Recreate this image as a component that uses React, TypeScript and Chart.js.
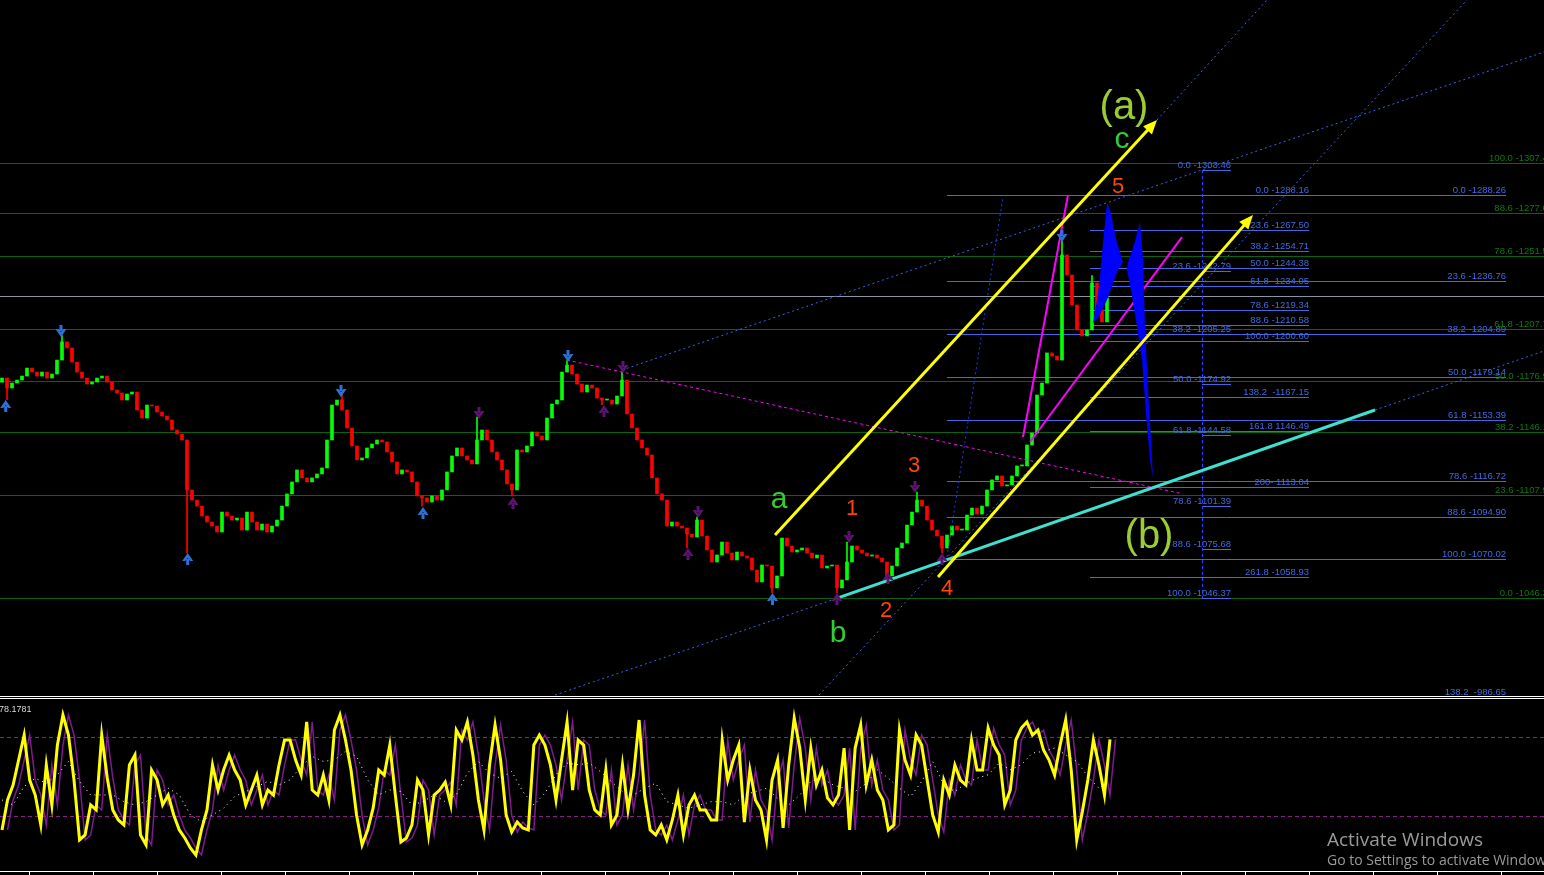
import React, { useEffect, useRef } from "react";
import { Chart, registerables } from "chart.js";

Chart.register(...registerables);

/* ===================== PRICE DATA (x = bar index, y = price) ===================== */
const closes: number[] = [
  1178.5, 1172.5, 1175.5, 1177.3, 1179.7, 1184.5, 1182.1, 1179.7, 1182.1, 1178.5,
  1180.9, 1189.3, 1200.2, 1196.6, 1188.1, 1182.1, 1178.5, 1174.9, 1176.1, 1178.5,
  1179.7, 1176.1, 1171.3, 1169.5, 1165.3, 1168.9, 1170.1, 1159.3, 1154.5, 1162.3,
  1161.7, 1158.1, 1155.7, 1153.3, 1147.3, 1144.9, 1141.3, 1111.3, 1105.2, 1101.6,
  1095.6, 1092.0, 1089.6, 1086.0, 1098.0, 1095.6, 1093.2, 1094.4, 1087.2, 1098.0,
  1092.0, 1087.2, 1090.8, 1086.0, 1089.6, 1093.2, 1101.6, 1108.9, 1116.1, 1123.3,
  1118.5, 1116.1, 1118.5, 1120.9, 1124.5, 1141.3, 1162.3, 1165.3, 1159.3, 1148.5,
  1137.7, 1129.3, 1130.5, 1136.5, 1138.9, 1141.3, 1140.1, 1134.1, 1128.1, 1120.9,
  1123.3, 1122.1, 1116.1, 1107.7, 1106.5, 1104.0, 1107.7, 1105.2, 1111.3, 1122.1,
  1131.7, 1136.5, 1131.7, 1129.3, 1126.9, 1141.3, 1147.3, 1141.3, 1134.1, 1129.3,
  1123.3, 1114.9, 1111.3, 1135.3, 1134.1, 1137.7, 1146.1, 1143.7, 1141.3, 1154.5,
  1162.9, 1165.3, 1182.1, 1186.3, 1180.9, 1174.9, 1170.1, 1174.3, 1172.5, 1166.5,
  1165.3, 1165.3, 1162.9, 1167.7, 1177.3, 1156.9, 1148.5, 1141.3, 1136.5, 1132.3,
  1118.5, 1108.9, 1105.2, 1089.6, 1092.0, 1089.6, 1088.4, 1084.8, 1083.0, 1093.2,
  1083.6, 1075.2, 1068.0, 1072.2, 1080.0, 1073.4, 1069.2, 1074.0, 1071.6, 1070.4,
  1063.2, 1056.0, 1066.2, 1065.6, 1052.4, 1059.6, 1082.4, 1077.6, 1074.0, 1075.2,
  1076.4, 1073.4, 1070.4, 1072.2, 1064.4, 1065.6, 1066.2, 1052.4, 1057.2, 1068.0,
  1077.6, 1075.2, 1073.4, 1071.6, 1072.2, 1070.4, 1068.0, 1059.6, 1065.6, 1076.4,
  1079.4, 1090.2, 1098.0, 1105.2, 1101.6, 1093.2, 1087.2, 1083.6, 1076.4, 1084.2,
  1089.6, 1087.2, 1087.2, 1096.2, 1100.4, 1096.8, 1101.6, 1111.3, 1117.3, 1119.7,
  1113.7, 1114.3, 1119.7, 1125.7, 1125.7, 1138.3, 1145.5, 1168.3, 1175.5, 1193.6,
  1191.7, 1189.3, 1252.4, 1240.4, 1222.4, 1207.4, 1203.8, 1207.4, 1235.6, 1219.4,
  1212.2, 1226.6,
];
const firstOpen = 1176.0;
// [bar index, wick extreme price]
const wickExtremes: number[][] = [
  [1, 1165.5], [12, 1204.0], [37, 1073.5], [68, 1169.0], [84, 1101.5], [95, 1155.0],
  [102, 1107.5], [113, 1189.0], [120, 1162.5], [124, 1182.0], [137, 1076.5], [139, 1095.0],
  [154, 1049.5], [167, 1049.5], [169, 1080.0], [177, 1057.5], [183, 1110.0], [188, 1073.5],
  [212, 1261.0], [218, 1240.0],
];
const bidPrice = 1227.8;

/* Fibonacci levels: [label, price] */
const greenFibLevels: [string, number][] = [
  ["100.0 -1307.44", 1307.44], ["88.6 -1277.68", 1277.68], ["78.6 -1251.57", 1251.57],
  ["61.8 -1207.71", 1207.71], ["50.0 -1176.91", 1176.91], ["38.2 -1146.10", 1146.1],
  ["23.6 -1107.98", 1107.98], ["0.0 -1046.37", 1046.37],
];
const greenLabelAnchor = 310.2;

const fibWideLevels: [string, number][] = [
  ["0.0 -1288.26", 1288.26], ["23.6 -1236.76", 1236.76], ["38.2 -1204.89", 1204.89],
  ["50.0 -1179.14", 1179.14], ["61.8 -1153.39", 1153.39], ["78.6 -1116.72", 1116.72],
  ["88.6 -1094.90", 1094.9], ["100.0 -1070.02", 1070.02], ["138.2  -986.65", 986.65],
];
const fibWideSpan = [189.0, 300.8];

const fibMidLevels: [string, number][] = [
  ["0.0 -1288.16", 1288.16], ["23.6 -1267.50", 1267.5], ["38.2 -1254.71", 1254.71],
  ["50.0 -1244.38", 1244.38], ["61.8 -1234.05", 1234.05], ["78.6 -1219.34", 1219.34],
  ["88.6 -1210.58", 1210.58], ["100.0 -1200.60", 1200.6], ["138.2  -1167.15", 1167.15],
  ["161.8 1146.49", 1146.49], ["200- 1113.04", 1113.04], ["261.8 -1058.93", 1058.93],
];
const fibMidSpan = [217.6, 261.4];

const fibShortLevels: [string, number][] = [
  ["0.0 -1303.46", 1303.46], ["23.6 -1242.79", 1242.79], ["38.2 -1205.25", 1205.25],
  ["50.0 -1174.92", 1174.92], ["61.8 -1144.58", 1144.58], ["78.6 -1101.39", 1101.39],
  ["88.6 -1075.68", 1075.68], ["100.0 -1046.37", 1046.37],
];
const fibShortSpan = [240.0, 245.8];

/* Trend lines: [[bar index, price], [bar index, price]] */
const yellowUpper = [[154.6, 1084.2], [231.0, 1333.5]];
const yellowLower = [[187.2, 1059.0], [250.2, 1276.4]];
const cyanLine = [[167.2, 1046.4], [274.6, 1159.3]];
const dottedLines = [
  [[110.6, 988.1], [167.2, 1046.4]],
  [[274.6, 1159.3], [308.4, 1194.8]],
  [[124.0, 1183.3], [308.4, 1374.4]],
  [[163.4, 988.1], [293.0, 1405.6]],
  [[231.0, 1333.5], [253.0, 1405.6]],
];
const steepDotted = [[189.0, 1071.0], [200.2, 1287.3]];
const magentaDashed = [[113.0, 1189.3], [236.2, 1108.9]];
const magentaSolid = [
  [[204.2, 1143.1], [213.2, 1288.5]],
  [[205.6, 1140.1], [236.0, 1263.2]],
];
const projectionA = [
  [218.2, 1211.6], [219.0, 1225.4], [219.6, 1239.2], [220.2, 1259.6], [221.0, 1283.7], [221.6, 1279.5],
  [223.0, 1259.6], [224.2, 1248.2], [223.0, 1242.2], [221.0, 1225.4], [219.2, 1214.6],
];
const projectionB = [
  [225.2, 1248.2], [226.4, 1258.4], [227.6, 1272.2], [228.2, 1249.4], [228.6, 1209.2], [229.2, 1171.3],
  [229.8, 1141.3], [230.2, 1118.5], [229.6, 1129.3], [228.8, 1157.5], [228.0, 1189.3], [226.8, 1213.4],
  [225.8, 1231.4], [225.0, 1243.4],
];

/* Fractal arrows: [bar index, tip price] */
const blueUp = [[0.74, 1165.3], [37.14, 1073.4], [84.2, 1101.0], [154.1, 1049.4]];
const blueDown = [[11.8, 1203.2], [67.8, 1167.1], [113.2, 1188.1], [212.0, 1260.2]];
const purpleDown = [[95.4, 1153.9], [124.2, 1181.5], [139.2, 1094.4], [169.4, 1079.4], [182.6, 1109.5]];
const purpleUp = [[102.2, 1107.0], [120.4, 1162.3], [137.2, 1076.4], [167.0, 1049.4], [177.2, 1062.0], [188.0, 1073.4]];

/* Wave labels: [text, bar index, baseline price] */
const bigWaveLabels: [string, number, number][] = [["(a)", 224.4, 1334.1], ["(b)", 229.4, 1076.4]];
const letterLabels: [string, number, number][] = [["c", 224.0, 1316.7], ["a", 155.4, 1100.4], ["b", 167.2, 1019.9]];
const numberLabels: [string, number, number][] = [
  ["5", 223.2, 1289.7], ["1", 170.0, 1096.2], ["2", 176.8, 1035.0], ["3", 182.4, 1122.1], ["4", 189.0, 1048.2],
];

/* ===================== OSCILLATOR DATA ===================== */
const oscMain: number[] = [
  9.4, 32.2, 43.5, 62.5, 81.5, 47.3, 35.9, 13.2, 58.7, 28.4,
  73.9, 96.7, 81.5, 47.3, 1.8, 5.6, 28.4, 24.6, 81.5, 48.9,
  24.6, 17.0, 13.2, 58.7, 66.3, 5.6, -2.0, 54.9, 47.3, 28.4,
  35.9, 20.8, 9.4, 3.3, -4.3, -9.6, 9.4, 24.6, 58.7, 39.7,
  54.9, 66.3, 54.9, 47.3, 28.4, 39.7, 51.1, 28.4, 39.7, 35.9,
  58.7, 77.7, 77.7, 62.5, 51.1, 91.4, 39.7, 35.9, 51.1, 32.2,
  85.3, 96.7, 77.7, 54.9, 20.8, -2.0, 9.4, 26.1, 54.9, 51.1,
  73.9, 35.9, 0.3, 3.3, 13.2, 47.3, 39.7, 5.6, 35.9, 39.7,
  45.8, 28.4, 85.3, 77.7, 91.4, 66.3, 32.2, 9.4, 58.7, 89.1,
  62.5, 20.8, 7.8, 15.4, 10.9, 9.4, 73.9, 81.5, 73.9, 58.7,
  32.2, 62.5, 91.4,
  39.7, 77.7, 73.9, 39.7, 24.6, 20.8, 54.9, 13.2, 20.8, 58.7,
  24.6, 51.1, 92.9, 35.9, 9.4, 5.6, 13.2, 1.8, 17.0, 35.9,
  5.6, 28.4, 35.9, 24.6, 24.6, 17.0, 17.0, 77.7, 47.3, 62.5,
  73.9, 15.4, 54.9, 32.2, 24.6, 1.8, 47.3, 62.5, 10.9, 58.7,
  94.4, 71.6, 32.2, 71.6, 43.5, 54.9, 33.7, 28.4, 35.9, 71.6,
  9.4, 71.6, 89.1, 43.5, 62.5, 39.7, 32.2, 9.4, 13.2, 85.3,
  62.5, 51.1, 81.5, 73.9, 47.3, 20.8, 7.8, 47.3, 35.9, 58.7,
  47.3, 43.5, 77.7, 54.9, 54.9, 86.8, 73.9, 66.3, 28.4, 39.7,
  77.7, 86.8, 91.4, 81.5, 85.3, 70.1, 62.5, 51.1, 73.9, 92.9,
  54.9, 1.8, 23.0, 47.3, 77.7, 58.7, 35.9, 78.18,
];
const oscSlow: number[] = [
  32.2, 28.4, 42.4, 48.7, 44.9, 51.3, 61.4, 46.2, 36.0, 36.0,
  36.0, 30.9, 28.4, 30.9, 36.0, 41.1, 36.0, 20.8, 15.7, 20.8,
  25.9, 34.8, 38.6, 42.4, 46.2, 43.6, 47.5, 57.6, 65.3, 61.4,
  62.7, 69.1, 65.3, 47.5, 36.0, 39.8, 38.6, 28.4, 30.9, 36.0,
  30.9, 36.0, 52.5, 61.4, 52.5, 48.7, 53.8, 38.6, 28.4, 37.3,
  51.3, 60.2, 58.9,
  60.2, 53.8, 46.2, 38.6, 36.0, 41.1, 44.9, 30.9, 28.4, 25.9,
  28.4, 30.9, 30.9, 28.4, 36.0, 38.6, 41.1, 33.5, 28.4, 36.0,
  46.2, 48.7, 43.6, 41.1, 38.6, 44.9, 55.1, 48.7, 41.1, 34.8,
  46.2, 61.4, 43.6, 38.6, 44.9, 48.7, 51.3, 60.2, 55.1, 58.9,
  67.8, 69.1, 71.6, 66.5, 61.4, 50.0, 41.1, 46.2,
];
const oscLevels = [80, 20];
const oscValueLabel = "78.1781";

/* ===================== LAYOUT / STYLE ===================== */
const W = 1544;
const MAIN_H = 697;
const BAR_PX = 5;
const X_MIN = -0.4;
const PRICE_MIN = 986.9;
const PRICE_MAX = 1405.6;
const OSC_TOP = 700;
const OSC_H = 175;
const OSC_STEP_PX = 5.54;
const OSC_X0_PX = 2;
const OSC_MIN = -21.77;
const OSC_MAX = 108.1;
const FONT = '"Liberation Sans", Arial, sans-serif';
const GREEN_LINE = "#0a640a";
const BLUE = "#4169e1";
const DOT_BLUE = "#3b62e6";

const opens = closes.map((c, i) => (i === 0 ? firstOpen : closes[i - 1]));
const candleColor = (i: number) => (closes[i] >= opens[i] ? "#00ff00" : "#ff0000");

function seg(ctx: CanvasRenderingContext2D, x1: number, y1: number, x2: number, y2: number) {
  ctx.beginPath();
  ctx.moveTo(x1, y1);
  ctx.lineTo(x2, y2);
  ctx.stroke();
}

function drawFractal(ctx: CanvasRenderingContext2D, x: number, tip: number, dir: "up" | "down", color: string) {
  ctx.fillStyle = color;
  const s = dir === "down" ? 1 : -1;
  const base = tip - 12 * s;
  ctx.beginPath();
  // shaft
  ctx.moveTo(x - 1.5, base);
  ctx.lineTo(x + 1.5, base);
  ctx.lineTo(x + 1.5, base + 6 * s);
  ctx.lineTo(x - 1.5, base + 6 * s);
  ctx.closePath();
  // head
  ctx.moveTo(x - 5.5, base + 4 * s);
  ctx.lineTo(x - 2.5, base + 4 * s);
  ctx.lineTo(x, base + 7 * s);
  ctx.lineTo(x + 2.5, base + 4 * s);
  ctx.lineTo(x + 5.5, base + 4 * s);
  ctx.lineTo(x, tip);
  ctx.closePath();
  ctx.fill();
}

const mainAnnotations = {
  id: "mainAnnotations",
  beforeDatasetsDraw(chart: any) {
    const { ctx, scales } = chart;
    const X = (v: number) => scales.x.getPixelForValue(v);
    const Y = (v: number) => scales.y.getPixelForValue(v);
    const crisp = (v: number) => Math.round(v) + 0.5;
    ctx.save();
    ctx.lineWidth = 1;
    ctx.strokeStyle = GREEN_LINE;
    greenFibLevels.forEach(([, p]) => seg(ctx, 0, crisp(Y(p)), W, crisp(Y(p))));
    ctx.strokeStyle = "#8a94a6";
    seg(ctx, 0, crisp(Y(bidPrice)), W, crisp(Y(bidPrice)));

    ctx.font = `9.5px ${FONT}`;
    ctx.textAlign = "right";
    ctx.textBaseline = "alphabetic";
    const blueSet = (levels: [string, number][], span: number[]) => {
      levels.forEach(([t, p]) => {
        const yy = crisp(Y(p));
        ctx.strokeStyle = BLUE;
        seg(ctx, X(span[0]), yy, X(span[1]), yy);
        ctx.fillStyle = BLUE;
        ctx.fillText(t, X(span[1]), yy - 2.5);
      });
    };
    blueSet(fibWideLevels, fibWideSpan);
    blueSet(fibMidLevels, fibMidSpan);
    blueSet(fibShortLevels, fibShortSpan);

    ctx.fillStyle = "#0f7a0f";
    greenFibLevels.forEach(([t, p]) => ctx.fillText(t, X(greenLabelAnchor), crisp(Y(p)) - 2.5));

    ctx.setLineDash([3, 3]);
    ctx.strokeStyle = "#2846ff";
    const vx = crisp(X(fibShortSpan[0]));
    seg(ctx, vx, Y(fibShortLevels[0][1]), vx, Y(fibShortLevels[fibShortLevels.length - 1][1]));
    ctx.setLineDash([]);
    ctx.restore();
  },
  afterDatasetsDraw(chart: any) {
    const { ctx, scales } = chart;
    const X = (v: number) => scales.x.getPixelForValue(v);
    const Y = (v: number) => scales.y.getPixelForValue(v);
    const line = (l: number[][]) => seg(ctx, X(l[0][0]), Y(l[0][1]), X(l[1][0]), Y(l[1][1]));
    ctx.save();

    // dotted helper lines
    ctx.lineWidth = 1;
    ctx.setLineDash([2, 3]);
    ctx.strokeStyle = DOT_BLUE;
    dottedLines.forEach(line);
    ctx.strokeStyle = "#1f3cf5";
    line(steepDotted);

    // magenta dashed
    ctx.setLineDash([3, 3]);
    ctx.strokeStyle = "#ff00ff";
    line(magentaDashed);
    ctx.setLineDash([]);

    // magenta solid
    ctx.lineWidth = 2;
    magentaSolid.forEach(line);

    // projection zigzag
    ctx.fillStyle = "#0000ff";
    [projectionA, projectionB].forEach((poly) => {
      ctx.beginPath();
      poly.forEach(([i, p], k) => (k === 0 ? ctx.moveTo(X(i), Y(p)) : ctx.lineTo(X(i), Y(p))));
      ctx.closePath();
      ctx.fill();
    });

    // cyan
    ctx.lineWidth = 3;
    ctx.strokeStyle = "#40e0d0";
    line(cyanLine);

    // yellow with arrowheads
    const arrowLine = (l: number[][]) => {
      const x1 = X(l[0][0]), y1 = Y(l[0][1]), x2 = X(l[1][0]), y2 = Y(l[1][1]);
      const a = Math.atan2(y2 - y1, x2 - x1);
      const L = 14, H = 6;
      ctx.strokeStyle = "#ffff00";
      ctx.lineWidth = 3;
      seg(ctx, x1, y1, x2 - (L - 2) * Math.cos(a), y2 - (L - 2) * Math.sin(a));
      ctx.fillStyle = "#ffff00";
      ctx.beginPath();
      ctx.moveTo(x2, y2);
      ctx.lineTo(x2 - L * Math.cos(a) + H * Math.sin(a), y2 - L * Math.sin(a) - H * Math.cos(a));
      ctx.lineTo(x2 - L * Math.cos(a) - H * Math.sin(a), y2 - L * Math.sin(a) + H * Math.cos(a));
      ctx.closePath();
      ctx.fill();
    };
    arrowLine(yellowUpper);
    arrowLine(yellowLower);

    // fractal arrows
    blueUp.forEach(([i, p]) => drawFractal(ctx, X(i), Y(p), "up", "#2a72d8"));
    blueDown.forEach(([i, p]) => drawFractal(ctx, X(i), Y(p), "down", "#2a72d8"));
    purpleUp.forEach(([i, p]) => drawFractal(ctx, X(i), Y(p), "up", "#5c1470"));
    purpleDown.forEach(([i, p]) => drawFractal(ctx, X(i), Y(p), "down", "#5c1470"));

    // wave labels
    ctx.textAlign = "center";
    ctx.textBaseline = "alphabetic";
    ctx.font = `40px ${FONT}`;
    ctx.fillStyle = "#9acd32";
    bigWaveLabels.forEach(([t, i, p]) => ctx.fillText(t, X(i), Y(p)));
    ctx.font = `30px ${FONT}`;
    ctx.fillStyle = "#32cd32";
    letterLabels.forEach(([t, i, p]) => ctx.fillText(t, X(i), Y(p)));
    ctx.font = `22px ${FONT}`;
    ctx.fillStyle = "#ff4500";
    numberLabels.forEach(([t, i, p]) => ctx.fillText(t, X(i), Y(p)));
    ctx.restore();
  },
};

const oscDecor = {
  id: "oscDecor",
  beforeDatasetsDraw(chart: any) {
    const { ctx, scales } = chart;
    ctx.save();
    ctx.strokeStyle = "#8a1f8a";
    ctx.lineWidth = 1;
    ctx.setLineDash([4, 3]);
    oscLevels.forEach((lv) => {
      const yy = Math.round(scales.y.getPixelForValue(lv)) + 0.5;
      seg(ctx, 0, yy, W, yy);
    });
    ctx.restore();
  },
  afterDraw(chart: any) {
    const { ctx, chartArea } = chart;
    ctx.save();
    ctx.fillStyle = "#ffffff";
    const b = Math.round(chartArea.bottom);
    ctx.fillRect(0, b, W, 1);
    for (let px = 28.6; px < W; px += 64) ctx.fillRect(Math.round(px), b, 1, 4);
    ctx.font = `9px ${FONT}`;
    ctx.fillStyle = "#d8d8d8";
    ctx.textAlign = "left";
    ctx.fillText(oscValueLabel, -1, 12);
    ctx.fillStyle = "#9a9a9a";
    ctx.font = `19px "Open Sans", "Noto Sans", sans-serif`;
    ctx.fillText("Activate Windows", 1327, 146);
    ctx.font = `14px "Open Sans", "Noto Sans", sans-serif`;
    ctx.fillText("Go to Settings to activate Windows.", 1327, 165);
    ctx.restore();
  },
};

export default function App() {
  const mainRef = useRef<HTMLCanvasElement>(null);
  const oscRef = useRef<HTMLCanvasElement>(null);

  useEffect(() => {
    const main = new Chart(mainRef.current as HTMLCanvasElement, {
      type: "bar",
      data: {
        datasets: [
          {
            label: "wicks",
            data: wickExtremes.map(([i, p]) => ({ x: i, y: [closes[i], p] })) as any,
            backgroundColor: wickExtremes.map(([i]) => candleColor(i)),
            barThickness: 1,
            grouped: false,
            order: 2,
          } as any,
          {
            label: "candles",
            data: closes.map((c, i) => ({ x: i, y: [opens[i], c] })) as any,
            backgroundColor: closes.map((_, i) => candleColor(i)),
            barThickness: 3,
            minBarLength: 1,
            grouped: false,
            order: 1,
          } as any,
        ],
      },
      options: {
        responsive: false,
        animation: false,
        devicePixelRatio: 1,
        events: [],
        layout: { padding: 0 },
        scales: {
          x: { type: "linear", min: X_MIN, max: X_MIN + W / BAR_PX, display: false, offset: false },
          y: { min: PRICE_MIN, max: PRICE_MAX, display: false },
        },
        plugins: { legend: { display: false }, tooltip: { enabled: false } },
      } as any,
      plugins: [mainAnnotations],
    });

    const oscXMin = -OSC_X0_PX / OSC_STEP_PX;
    const osc = new Chart(oscRef.current as HTMLCanvasElement, {
      type: "line",
      data: {
        datasets: [
          {
            data: oscSlow.map((v, j) => ({ x: 2 * j, y: v })),
            borderColor: "#ffffff",
            borderWidth: 1,
            borderDash: [1, 4],
            pointRadius: 0,
            order: 0,
          },
          {
            data: oscMain.map((v, k) => ({ x: k, y: v })),
            borderColor: "#ffff00",
            borderWidth: 3,
            pointRadius: 0,
            order: 1,
          },
          {
            data: oscMain.map((v, k) => ({ x: k + 1, y: v })),
            borderColor: "#7d1c8f",
            borderWidth: 1.5,
            pointRadius: 0,
            order: 2,
          },
        ],
      },
      options: {
        responsive: false,
        animation: false,
        devicePixelRatio: 1,
        events: [],
        layout: { padding: { left: 0, right: 0, top: 0, bottom: 4 } },
        elements: { line: { tension: 0 } },
        scales: {
          x: { type: "linear", min: oscXMin, max: oscXMin + W / OSC_STEP_PX, display: false },
          y: { min: OSC_MIN, max: OSC_MAX, display: false },
        },
        plugins: { legend: { display: false }, tooltip: { enabled: false } },
      } as any,
      plugins: [oscDecor],
    });

    return () => {
      main.destroy();
      osc.destroy();
    };
  }, []);

  return (
    <div style={{ position: "fixed", left: 0, top: 0, width: W, height: 875, background: "#000", overflow: "hidden" }}>
      <canvas ref={mainRef} width={W} height={MAIN_H} style={{ position: "absolute", left: 0, top: 0 }} />
      <div style={{ position: "absolute", left: 0, top: 696, width: W, height: 1, background: "#fff" }} />
      <div style={{ position: "absolute", left: 0, top: 698, width: W, height: 1, background: "#fff" }} />
      <canvas ref={oscRef} width={W} height={OSC_H} style={{ position: "absolute", left: 0, top: OSC_TOP }} />
    </div>
  );
}
